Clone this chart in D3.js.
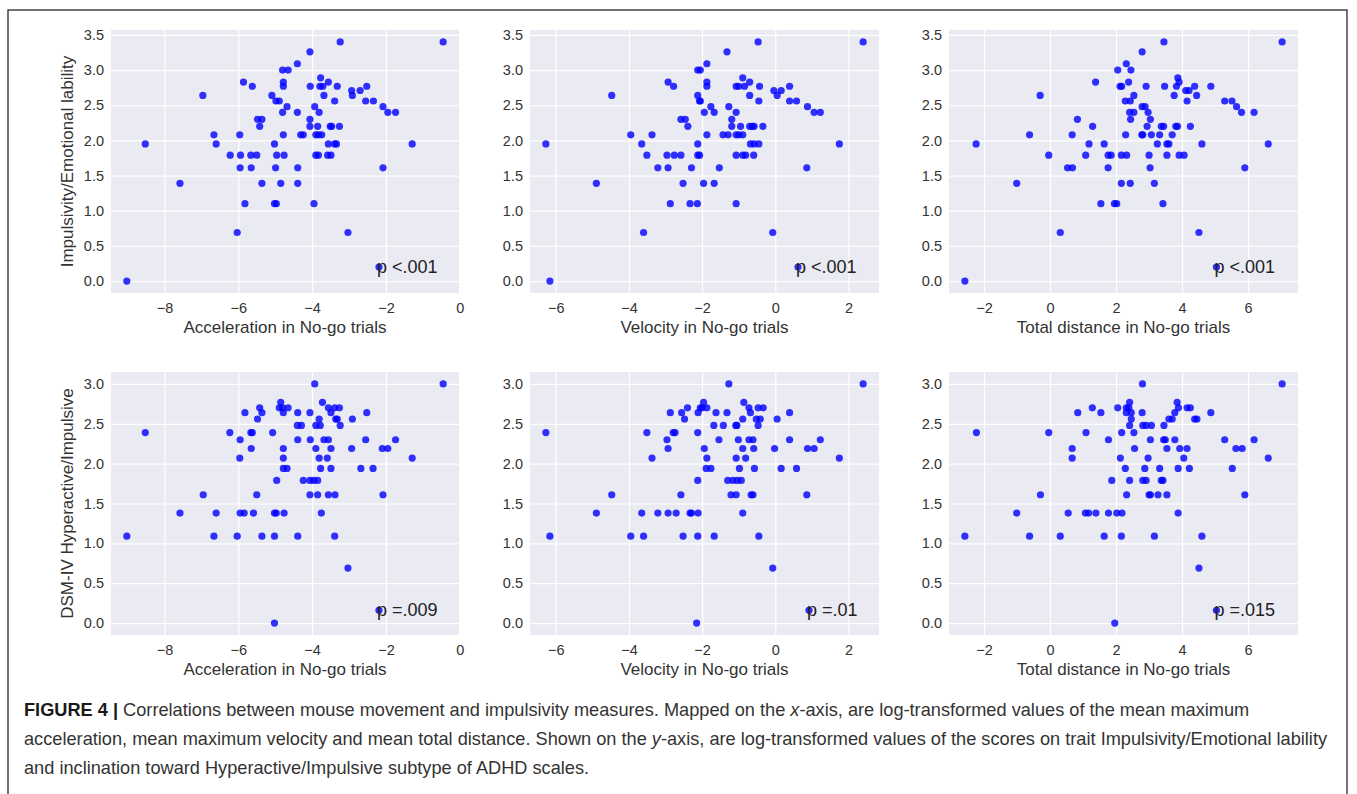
<!DOCTYPE html>
<html>
<head>
<meta charset="utf-8">
<script src="https://cdn.jsdelivr.net/npm/d3@7"></script>
<style>
  html, body { margin: 0; padding: 0; background: #fff; }
  svg { display: block; }
  text { font-family: "Liberation Sans", Arial, Helvetica, sans-serif; }
</style>
</head>
<body>
<svg id="fig" width="1357" height="794"></svg>
<script>
// ---------------- DATA ----------------
const xLabels = ["Acceleration in No-go trials", "Velocity in No-go trials", "Total distance in No-go trials"];
const yLabels = ["Impulsivity/Emotional lability", "DSM-IV Hyperactive/Impulsive"];
const xTicks = [[-8, -6, -4, -2, 0], [-6, -4, -2, 0, 2], [-2, 0, 2, 4, 6]];
const yTicksTop = [0, 0.5, 1, 1.5, 2, 2.5, 3, 3.5];
const yTicksBottom = [0, 0.5, 1, 1.5, 2, 2.5, 3];
const pTexts = ["p <.001", "p <.001", "p <.001", "p =.009", "p =.01", "p =.015"];
// label anchors (data units) — the marker under the "p"
const pAnchors = [[-2.19, 0.20], [0.62, 0.20], [5.04, 0.20], [-2.19, 0.16], [0.92, 0.16], [5.04, 0.16]];

const accImp = [[-0.45,3.40],[-3.24,3.40],[-4.06,3.26],[-4.40,3.09],[-4.80,3.00],[-4.65,3.00],[-5.86,2.83],[-4.78,2.83],[-4.78,2.77],[-5.62,2.77],[-6.96,2.64],[-4.05,2.77],[-3.77,2.89],[-3.79,2.77],[-3.71,2.77],[-3.56,2.83],[-3.32,2.77],[-3.68,2.64],[-3.39,2.56],[-5.09,2.64],[-4.98,2.56],[-4.89,2.56],[-4.68,2.48],[-4.80,2.40],[-4.40,2.40],[-2.93,2.71],[-2.91,2.64],[-2.70,2.71],[-2.52,2.77],[-2.55,2.56],[-2.34,2.56],[-2.08,2.48],[-1.95,2.40],[-1.74,2.40],[-1.29,1.95],[-2.08,1.61],[-3.93,2.48],[-3.81,2.40],[-4.06,2.30],[-4.06,2.20],[-3.85,2.20],[-3.51,2.20],[-3.47,2.20],[-3.26,2.20],[-5.48,2.30],[-5.36,2.30],[-5.42,2.20],[-6.66,2.08],[-6.60,1.95],[-5.96,2.08],[-4.78,2.08],[-4.31,2.08],[-4.24,2.08],[-3.90,2.08],[-3.83,2.08],[-3.74,2.08],[-3.56,1.95],[-3.39,1.95],[-3.34,1.95],[-5.02,1.95],[-8.52,1.95],[-6.22,1.79],[-5.94,1.79],[-5.66,1.79],[-5.50,1.79],[-4.96,1.79],[-4.76,1.79],[-3.90,1.79],[-3.83,1.79],[-3.58,1.79],[-3.49,1.79],[-5.95,1.61],[-5.65,1.61],[-4.99,1.61],[-4.39,1.61],[-7.58,1.39],[-5.36,1.39],[-4.85,1.39],[-4.39,1.39],[-5.82,1.10],[-5.02,1.10],[-4.97,1.10],[-3.95,1.10],[-6.03,0.69],[-3.03,0.69],[-2.19,0.20],[-9.02,0.00]];

const velImp = [[2.40,3.40],[-0.47,3.40],[-1.32,3.26],[-1.87,3.09],[-2.12,3.00],[-2.05,3.00],[-2.93,2.83],[-2.78,2.77],[-1.87,2.83],[-1.87,2.77],[-4.47,2.64],[-2.12,2.64],[-2.07,2.56],[-2.05,2.56],[-0.89,2.89],[-1.07,2.77],[-1.00,2.77],[-0.84,2.77],[-0.70,2.83],[-0.43,2.77],[-0.70,2.64],[-0.45,2.56],[-0.04,2.71],[0.05,2.64],[0.16,2.71],[0.39,2.77],[0.39,2.56],[0.58,2.56],[0.88,2.48],[1.06,2.40],[1.23,2.40],[1.75,1.95],[0.86,1.61],[-1.76,2.48],[-1.67,2.40],[-1.94,2.40],[-1.27,2.48],[-1.07,2.40],[-1.19,2.30],[-1.19,2.20],[-0.95,2.20],[-0.70,2.20],[-0.63,2.20],[-0.58,2.20],[-0.34,2.20],[-2.58,2.30],[-2.46,2.30],[-2.39,2.20],[-3.95,2.08],[-3.37,2.08],[-1.87,2.08],[-1.43,2.08],[-1.29,2.08],[-1.07,2.08],[-1.00,2.08],[-0.89,2.08],[-0.68,1.95],[-0.58,1.95],[-0.45,1.95],[-2.12,1.95],[-6.27,1.95],[-3.65,1.95],[-3.51,1.79],[-2.96,1.79],[-2.76,1.79],[-2.58,1.79],[-2.12,1.79],[-2.07,1.79],[-1.07,1.79],[-0.89,1.79],[-0.81,1.79],[-0.59,1.79],[-3.21,1.61],[-2.93,1.61],[-2.29,1.61],[-1.53,1.61],[-4.89,1.39],[-2.52,1.39],[-1.96,1.39],[-1.67,1.39],[-2.87,1.10],[-2.33,1.10],[-2.13,1.10],[-1.07,1.10],[-3.60,0.69],[-0.07,0.69],[0.62,0.20],[-6.16,0.00]];

const distImp = [[7.03,3.40],[3.45,3.40],[2.79,3.26],[2.31,3.09],[2.05,3.00],[2.45,3.00],[1.38,2.83],[2.38,2.83],[2.12,2.77],[2.17,2.77],[-0.30,2.64],[2.28,2.56],[2.43,2.56],[2.54,2.64],[3.87,2.89],[2.91,2.77],[3.47,2.77],[3.83,2.77],[3.91,2.83],[4.87,2.77],[4.38,2.77],[3.76,2.64],[4.11,2.71],[4.21,2.71],[4.44,2.64],[4.15,2.56],[5.29,2.56],[5.51,2.56],[5.65,2.48],[5.80,2.40],[6.18,2.40],[6.61,1.95],[5.90,1.61],[2.79,2.48],[2.88,2.48],[2.97,2.40],[2.41,2.40],[2.54,2.40],[2.44,2.30],[3.04,2.30],[2.94,2.20],[3.37,2.20],[3.44,2.20],[3.81,2.20],[3.86,2.20],[4.25,2.20],[0.83,2.30],[1.29,2.20],[-0.62,2.08],[0.67,2.08],[2.29,2.08],[2.78,2.08],[2.81,2.08],[3.07,2.08],[3.32,2.08],[3.70,2.08],[3.25,1.95],[3.54,1.95],[3.60,1.95],[1.64,1.95],[-2.24,1.95],[1.18,1.95],[-0.04,1.79],[1.08,1.79],[1.76,1.79],[1.85,1.79],[2.16,1.79],[2.32,1.79],[3.00,1.79],[3.54,1.79],[3.91,1.79],[4.06,1.79],[4.60,1.95],[0.53,1.61],[0.68,1.61],[1.76,1.61],[3.03,1.61],[-1.01,1.39],[2.16,1.39],[2.43,1.39],[3.16,1.39],[1.54,1.10],[1.95,1.10],[2.02,1.10],[3.42,1.10],[0.31,0.69],[4.51,0.69],[5.04,0.20],[-2.58,0.00]];

const accHyp = [[-0.45,3.00],[-3.93,3.00],[-4.85,2.77],[-4.89,2.70],[-4.80,2.70],[-4.65,2.70],[-4.78,2.64],[-5.42,2.70],[-5.36,2.64],[-5.82,2.64],[-5.48,2.56],[-4.39,2.64],[-4.06,2.64],[-3.72,2.77],[-3.56,2.70],[-3.39,2.70],[-3.26,2.70],[-3.49,2.64],[-3.81,2.56],[-3.36,2.56],[-3.32,2.56],[-3.24,2.48],[-4.40,2.48],[-4.29,2.48],[-3.90,2.48],[-3.78,2.48],[-2.91,2.56],[-2.52,2.64],[-8.52,2.39],[-6.23,2.39],[-5.66,2.39],[-5.62,2.39],[-5.07,2.39],[-5.95,2.30],[-5.65,2.19],[-5.96,2.07],[-4.39,2.30],[-4.05,2.30],[-3.68,2.30],[-3.56,2.30],[-2.55,2.30],[-1.74,2.30],[-4.78,2.19],[-3.90,2.19],[-3.49,2.19],[-2.93,2.19],[-2.10,2.19],[-1.95,2.19],[-1.29,2.07],[-4.78,2.07],[-3.81,2.07],[-3.59,2.07],[-4.78,1.94],[-4.68,1.94],[-3.77,1.94],[-3.49,1.94],[-2.68,1.94],[-2.35,1.94],[-4.96,1.79],[-4.24,1.79],[-4.06,1.79],[-3.96,1.79],[-3.85,1.79],[-6.95,1.61],[-5.50,1.61],[-4.06,1.61],[-3.85,1.61],[-3.56,1.61],[-3.38,1.61],[-2.08,1.61],[-7.58,1.38],[-6.60,1.38],[-5.95,1.38],[-5.84,1.38],[-5.59,1.38],[-5.02,1.38],[-4.97,1.38],[-4.76,1.38],[-3.75,1.38],[-9.02,1.09],[-6.66,1.09],[-6.03,1.09],[-5.36,1.09],[-5.02,1.09],[-4.39,1.09],[-3.39,1.09],[-3.03,0.69],[-2.19,0.16],[-5.02,0.00]];

const velHyp = [[2.40,3.00],[-1.27,3.00],[-1.96,2.77],[-2.05,2.70],[-2.00,2.70],[-1.87,2.70],[-2.11,2.64],[-2.40,2.70],[-2.56,2.64],[-2.87,2.64],[-2.48,2.56],[-1.62,2.64],[-1.32,2.64],[-0.86,2.77],[-0.72,2.70],[-0.47,2.70],[-0.33,2.70],[-0.68,2.64],[-0.89,2.56],[-0.52,2.56],[-0.41,2.56],[-0.47,2.48],[-1.68,2.48],[-1.42,2.48],[-1.08,2.48],[-1.05,2.48],[0.05,2.56],[0.39,2.64],[-6.27,2.39],[-3.51,2.39],[-2.79,2.39],[-2.74,2.39],[-2.12,2.39],[-2.96,2.30],[-2.93,2.19],[-3.37,2.07],[-1.54,2.30],[-1.01,2.30],[-0.72,2.30],[-0.61,2.30],[0.39,2.30],[1.23,2.30],[-1.94,2.19],[-0.89,2.19],[-0.59,2.19],[-0.02,2.19],[0.88,2.19],[1.06,2.19],[1.75,2.07],[-1.87,2.07],[-1.07,2.07],[-0.81,2.07],[-1.89,1.94],[-1.76,1.94],[-0.98,1.94],[-0.57,1.94],[0.16,1.94],[0.58,1.94],[-2.12,1.79],[-1.30,1.79],[-1.16,1.79],[-1.04,1.79],[-0.93,1.79],[-4.47,1.61],[-2.58,1.61],[-1.21,1.61],[-1.07,1.61],[-0.66,1.61],[-0.61,1.61],[0.86,1.61],[-4.89,1.38],[-3.65,1.38],[-3.21,1.38],[-2.93,1.38],[-2.71,1.38],[-2.33,1.38],[-2.29,1.38],[-2.11,1.38],[-0.89,1.38],[-6.16,1.09],[-3.95,1.09],[-3.60,1.09],[-2.52,1.09],[-2.12,1.09],[-1.67,1.09],[-0.45,1.09],[-0.07,0.69],[0.92,0.16],[-2.15,0.00]];

const distHyp = [[7.03,3.00],[2.80,3.00],[2.41,2.77],[3.85,2.77],[2.05,2.70],[2.31,2.70],[2.39,2.70],[1.28,2.70],[4.15,2.70],[4.25,2.70],[0.84,2.64],[1.54,2.64],[2.31,2.64],[2.46,2.64],[2.79,2.64],[3.78,2.64],[4.87,2.64],[3.89,2.70],[2.46,2.56],[3.60,2.56],[3.70,2.56],[4.38,2.56],[4.45,2.56],[2.41,2.48],[2.81,2.48],[2.91,2.48],[3.07,2.48],[3.45,2.48],[-2.23,2.39],[-0.04,2.39],[1.09,2.39],[2.17,2.39],[2.54,2.39],[1.77,2.30],[3.04,2.30],[3.44,2.30],[3.49,2.30],[3.78,2.30],[5.29,2.30],[6.18,2.30],[0.67,2.19],[2.56,2.19],[3.54,2.19],[3.93,2.19],[4.15,2.19],[5.63,2.19],[5.82,2.19],[0.67,2.07],[2.13,2.07],[2.97,2.07],[4.05,2.07],[6.61,2.07],[2.28,1.94],[2.87,1.94],[3.32,1.94],[3.88,1.94],[4.22,1.94],[5.52,1.94],[1.87,1.79],[2.41,1.79],[2.81,1.79],[2.91,1.79],[3.37,1.79],[3.42,1.79],[-0.29,1.61],[2.32,1.61],[3.00,1.61],[3.04,1.61],[3.27,1.61],[3.54,1.61],[5.90,1.61],[-1.01,1.38],[0.55,1.38],[1.07,1.38],[1.17,1.38],[1.39,1.38],[1.77,1.38],[2.02,1.38],[2.18,1.38],[3.88,1.38],[-2.58,1.09],[-0.62,1.09],[0.31,1.09],[1.64,1.09],[2.16,1.09],[3.16,1.09],[4.60,1.09],[4.51,0.69],[5.04,0.16],[1.96,0.00]];

const captionLines = [
  [{t: "FIGURE 4 |", b: true}, {t: " Correlations between mouse movement and impulsivity measures. Mapped on the "}, {t: "x", i: true}, {t: "-axis, are log-transformed values of the mean maximum"}],
  [{t: "acceleration, mean maximum velocity and mean total distance. Shown on the "}, {t: "y", i: true}, {t: "-axis, are log-transformed values of the scores on trait Impulsivity/Emotional lability"}],
  [{t: "and inclination toward Hyperactive/Impulsive subtype of ADHD scales."}]
];

// ---------------- LAYOUT ----------------
const panelsData = [accImp, velImp, distImp, accHyp, velHyp, distHyp];
const cols = [{l: 111, r: 459}, {l: 530, r: 879}, {l: 949, r: 1298}];
const rows = [{t: 30, b: 293}, {t: 372, b: 635}];
const svg = d3.select("#fig");
const TXT = "#333333";

// outer frame
svg.append("rect").attr("x", 8).attr("y", 10).attr("width", 1339).attr("height", 800)
  .attr("fill", "none").attr("stroke", "#2a2a2a").attr("stroke-width", 1.3);

const fmtX = d => (d < 0 ? "\u2212" + Math.abs(d) : String(d));
const fmtY = d => d3.format(".1f")(d);

function padExtent(vals) {
  const [a, b] = d3.extent(vals);
  const m = (b - a) * 0.05;
  return [a - m, b + m];
}

panelsData.forEach((data, i) => {
  const ci = i % 3, ri = Math.floor(i / 3);
  const c = cols[ci], r = rows[ri];
  // x domain shared by column, y domain shared by row
  const colSets = [[accImp, accHyp], [velImp, velHyp], [distImp, distHyp]][ci];
  const rowSets = [[accImp, velImp, distImp], [accHyp, velHyp, distHyp]][ri];
  const x = d3.scaleLinear().domain(padExtent(data.map(d => d[0]))).range([c.l, c.r]);
  const y = d3.scaleLinear().domain(padExtent(data.map(d => d[1]))).range([r.b, r.t]);
  const yTicks = ri === 0 ? yTicksTop : yTicksBottom;

  const g = svg.append("g");
  g.append("rect").attr("x", c.l).attr("y", r.t).attr("width", c.r - c.l).attr("height", r.b - r.t)
    .attr("fill", "#EAEAF2");

  // grid via axes
  const gx = g.append("g").attr("transform", `translate(0,${r.b})`)
    .call(d3.axisBottom(x).tickValues(xTicks[ci]).tickSize(-(r.b - r.t)).tickFormat(fmtX).tickPadding(10));
  const gy = g.append("g").attr("transform", `translate(${c.l},0)`)
    .call(d3.axisLeft(y).tickValues(yTicks).tickSize(-(c.r - c.l)).tickFormat(fmtY).tickPadding(7));
  [gx, gy].forEach(a => {
    a.select(".domain").remove();
    a.selectAll(".tick line").attr("stroke", "#ffffff").attr("stroke-width", 1.2);
    a.selectAll(".tick text").attr("fill", TXT).attr("font-size", "14.5px")
      .attr("font-family", '"Liberation Sans", Arial, sans-serif');
  });

  // points
  g.append("g").selectAll("circle").data(data).join("circle")
    .attr("cx", d => x(d[0])).attr("cy", d => y(d[1])).attr("r", 3.6)
    .attr("fill", "#0000ff").attr("fill-opacity", 0.8);

  // p label
  const pa = pAnchors[i];
  g.append("text").attr("x", x(pa[0]) - 2).attr("y", y(pa[1]) + 6)
    .attr("font-size", "18px").attr("fill", "#222").text(pTexts[i]);

  // x label
  g.append("text").attr("x", (c.l + c.r) / 2).attr("y", r.b + 40)
    .attr("text-anchor", "middle").attr("font-size", "17px").attr("fill", TXT).text(xLabels[ci]);

  // y label
  if (ci === 0) {
    g.append("text").attr("transform", `translate(73,${(r.t + r.b) / 2}) rotate(-90)`)
      .attr("text-anchor", "middle").attr("font-size", "17px").attr("fill", TXT).text(yLabels[ri]);
  }
});

// ---------------- CAPTION ----------------
const capY = [716, 745, 774];
const cap = svg.append("g");
captionLines.forEach((line, li) => {
  const t = cap.append("text").attr("x", 24).attr("y", capY[li]).attr("font-size", "16.5px").attr("fill", "#333");
  line.forEach(seg => {
    const s = t.append("tspan").text(seg.t);
    if (seg.b) s.attr("font-weight", "bold").attr("fill", "#1a1a1a");
    if (seg.i) s.attr("font-style", "italic");
  });
});
// fit caption font size so that line 2 spans the measured width
const line2 = cap.selectAll("text").nodes()[1];
const w = line2.getComputedTextLength();
const target = 1304;
const fs = 16.5 * target / w;
cap.selectAll("text").attr("font-size", fs.toFixed(2) + "px");
</script>
</body>
</html>
